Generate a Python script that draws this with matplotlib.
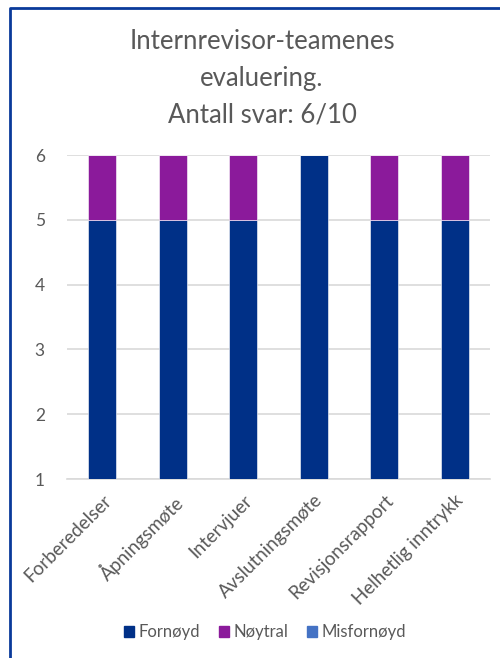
import numpy as np
import matplotlib.pyplot as plt
from matplotlib.lines import Line2D

plt.rcParams['font.family'] = ['Lato', 'DejaVu Sans']

# data
categories = ['Forberedelser', 'Åpningsmøte', 'Intervjuer',
              'Avslutningsmøte', 'Revisjonsrapport', 'Helhetlig inntrykk']
fornoyd = [5, 5, 5, 6, 5, 5]
noytral = [1, 1, 1, 0, 1, 1]
misfornoyd = [0, 0, 0, 0, 0, 0]

series_names = ['Fornøyd', 'Nøytral', 'Misfornøyd']
colors = ['#003087', '#8B1A9B', '#4472C4']
grey = '#595959'

fig = plt.figure(figsize=(5, 6.58), dpi=100)
ax = fig.add_axes([0.134, 0.272, 0.846, 0.4924])

x = np.arange(len(categories))
bottom = np.zeros(len(categories))
for vals, name, c in zip([fornoyd, noytral, misfornoyd], series_names, colors):
    ax.bar(x, vals, width=0.4, bottom=bottom, color=c, label=name,
           edgecolor='white', linewidth=0.4, zorder=3)
    bottom += np.array(vals)

ax.set_ylim(1, 6)
ax.set_xlim(-0.5, len(categories) - 0.5)
ax.set_yticks([1, 2, 3, 4, 5, 6])
ax.yaxis.grid(True, color='#D9D9D9', linewidth=1.2, zorder=0)
for s in ['top', 'right', 'left']:
    ax.spines[s].set_visible(False)
ax.spines['bottom'].set_color('#D9D9D9')
ax.spines['bottom'].set_linewidth(1.2)
ax.tick_params(axis='both', length=0, colors=grey, labelsize=12.5)
ax.tick_params(axis='y', pad=16)
ax.set_xticks(x)
ax.set_xticklabels(categories, rotation=45, ha='right', rotation_mode='anchor',
                   fontsize=13.5)
ax.tick_params(axis='x', pad=9)

fig.text(0.524, 0.881, 'Internrevisor-teamenes\nevaluering.\nAntall svar: 6/10',
         ha='center', va='center', fontsize=18.5, color=grey, linespacing=1.6)

handles = [plt.Rectangle((0, 0), 1, 1, color=c) for c in colors]
fig.legend(handles, series_names, loc='center', bbox_to_anchor=(0.53, 0.039),
           ncol=3, frameon=False, fontsize=12, labelcolor=grey,
           handlelength=0.6, handleheight=0.6, handletextpad=0.3,
           columnspacing=1.1)

# chart frame
fig.add_artist(Line2D([10 / 500, 10 / 500, 1.0], [0.0, 1 - 8 / 658, 1 - 8 / 658],
                      transform=fig.transFigure, color='#0A3A9A', linewidth=2))

fig.savefig('out.png', dpi=100)
